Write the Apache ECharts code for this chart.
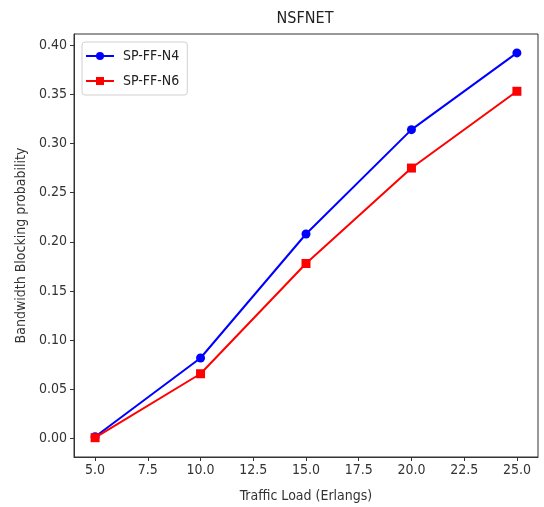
<!DOCTYPE html>
<html>
<head>
<meta charset="utf-8">
<script src="https://cdn.jsdelivr.net/npm/echarts@6/dist/echarts.min.js"></script>
<style>html,body{margin:0;padding:0;background:#fff}#c{width:544px;height:507px}</style>
</head>
<body>
<div id="c"></div>
<script>
var traffic = [5, 10, 15, 20, 25];
var n4 = [0.002, 0.082, 0.208, 0.314, 0.392];
var n6 = [0.001, 0.066, 0.178, 0.275, 0.353];
var xTicks = [5, 7.5, 10, 12.5, 15, 17.5, 20, 22.5, 25];
var yTicks = [0, 0.05, 0.1, 0.15, 0.2, 0.25, 0.3, 0.35, 0.4];
var seriesNames = ['SP-FF-N4', 'SP-FF-N6'];

var font = '"DejaVu Sans Condensed", "Liberation Sans Narrow", "DejaVu Sans", sans-serif';
var chart = echarts.init(document.getElementById('c'), null, {renderer: 'canvas'});
chart.setOption({
  animation: false,
  backgroundColor: '#fff',
  title: {
    text: 'NSFNET', left: 300, top: 6, textAlign: 'center',
    textStyle: {fontFamily: font, fontSize: 16, fontWeight: 'normal', color: '#222'}
  },
  legend: {
    orient: 'vertical', left: 82, top: 42, padding: [7, 8, 7, 3],
    itemGap: 11, itemWidth: 28, itemHeight: 10,
    borderColor: '#d0d0d0', borderWidth: 1, borderRadius: 3,
    textStyle: {fontFamily: font, fontSize: 14, color: '#222', padding: [0, 0, 0, 4]},
    data: seriesNames
  },
  grid: {left: 74, right: 6, top: 34, bottom: 50, outerBoundsMode: 'none', containLabel: false,
    show: true, borderColor: '#333', borderWidth: 1},
  xAxis: {
    type: 'value', min: 4, max: 26,
    name: 'Traffic Load (Erlangs)', nameLocation: 'middle', nameGap: 32,
    nameTextStyle: {fontFamily: font, fontSize: 14, color: '#333'},
    axisLine: {show: true, onZero: false, lineStyle: {color: '#333'}},
    axisTick: {show: true, length: 4, customValues: xTicks, lineStyle: {color: '#333'}},
    axisLabel: {customValues: xTicks, fontFamily: font, fontSize: 14, color: '#333', margin: 6,
      formatter: function (v) { return v.toFixed(1); }},
    splitLine: {show: false}
  },
  yAxis: {
    type: 'value', min: -0.0186, max: 0.4112,
    name: 'Bandwidth Blocking probability', nameLocation: 'middle', nameGap: 43,
    nameTextStyle: {fontFamily: font, fontSize: 14, color: '#333'},
    axisLine: {show: true, onZero: false, lineStyle: {color: '#333'}},
    axisTick: {show: true, length: 4, customValues: yTicks, lineStyle: {color: '#333'}},
    axisLabel: {customValues: yTicks, fontFamily: font, fontSize: 14, color: '#333', margin: 7,
      formatter: function (v) { return v.toFixed(2); }},
    splitLine: {show: false}
  },
  series: [
    {
      name: seriesNames[0], type: 'line', data: traffic.map(function (x, i) { return [x, n4[i]]; }),
      color: '#0000ff', symbol: 'circle', symbolSize: 9, lineStyle: {width: 2},
      itemStyle: {color: '#0000ff'}
    },
    {
      name: seriesNames[1], type: 'line', data: traffic.map(function (x, i) { return [x, n6[i]]; }),
      color: '#ff0000', symbol: 'rect', symbolSize: 9, lineStyle: {width: 2},
      itemStyle: {color: '#ff0000'}
    }
  ]
});
</script>
</body>
</html>
